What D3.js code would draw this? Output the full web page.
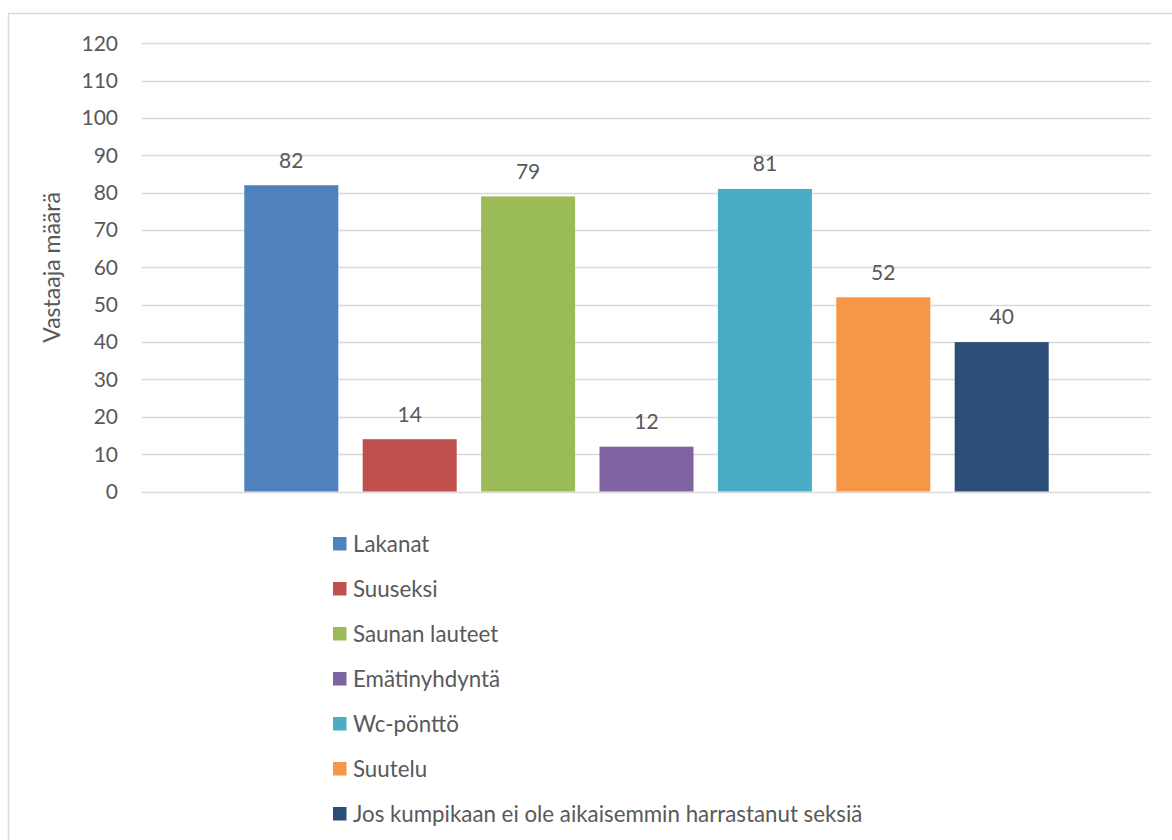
<!DOCTYPE html>
<html>
<head>
<meta charset="utf-8">
<script src="https://cdn.jsdelivr.net/npm/d3@7"></script>
<style>
  body { margin: 0; background: #fff; }
  svg text { font-family: Lato, "Open Sans", sans-serif; fill: #595959; }
</style>
</head>
<body>
<svg id="chart" width="1172" height="840"></svg>
<script>
var series = ["Lakanat", "Suuseksi", "Saunan lauteet", "Emätinyhdyntä", "Wc-pönttö", "Suutelu", "Jos kumpikaan ei ole aikaisemmin harrastanut seksiä"]
var values = [82, 14, 79, 12, 81, 52, 40]
var colours = ["#4f81bd", "#c0504d", "#9bbb59", "#8064a2", "#4bacc6", "#f79646", "#2c4d75"]
var yTicks = [0, 10, 20, 30, 40, 50, 60, 70, 80, 90, 100, 110, 120]
var yTitle = "Vastaaja määrä"

var svg = d3.select("#chart")

// chart frame (runs off the bottom/right edge like the original)
svg.append("rect")
  .attr("x", 8.5).attr("y", 13.5)
  .attr("width", 1200).attr("height", 900)
  .attr("fill", "none").attr("stroke", "#d9d9d9").attr("stroke-width", 1.5)

var plot = {left: 142, right: 1151, top: 43.3, bottom: 491.5}

var y = d3.scaleLinear()
  .domain([0, 120])
  .range([plot.bottom, plot.top])

var x = d3.scaleBand()
  .domain(series)
  .range([plot.left, plot.right])
  .paddingInner(0.206)
  .paddingOuter(0.864)

// gridlines
svg.append("g")
  .selectAll("line")
  .data(yTicks)
  .enter()
  .append("line")
  .attr("x1", plot.left).attr("x2", plot.right)
  .attr("y1", function(d){return Math.round(y(d)) + 0.5})
  .attr("y2", function(d){return Math.round(y(d)) + 0.5})
  .attr("stroke", "#d9d9d9")
  .attr("stroke-width", 1.3)

// y tick labels
svg.append("g")
  .selectAll("text")
  .data(yTicks)
  .enter()
  .append("text")
  .attr("x", 118)
  .attr("y", function(d){return y(d)})
  .attr("dy", "0.35em")
  .attr("text-anchor", "end")
  .attr("font-size", 21)
  .text(function(d){return d})

svg.append("text")
  .attr("transform", "translate(60," + ((plot.top + plot.bottom) / 2) + ") rotate(-90)")
  .attr("text-anchor", "middle")
  .attr("font-size", 23)
  .text(yTitle)

// bars
svg.append("g")
  .selectAll("rect")
  .data(series)
  .enter()
  .append("rect")
  .attr("x", function(d){return x(d)})
  .attr("width", x.bandwidth())
  .attr("y", function(d, i){return y(values[i])})
  .attr("height", function(d, i){return y(0) - y(values[i])})
  .attr("fill", function(d, i){return colours[i]})

// data labels
svg.append("g")
  .selectAll("text")
  .data(series)
  .enter()
  .append("text")
  .attr("x", function(d){return x(d) + x.bandwidth() / 2})
  .attr("y", function(d, i){return y(values[i]) - 25})
  .attr("dy", "0.35em")
  .attr("text-anchor", "middle")
  .attr("font-size", 21)
  .text(function(d, i){return values[i]})

// legend
var legend = svg.append("g")
  .selectAll("g")
  .data(series)
  .enter()
  .append("g")
  .attr("transform", function(d, i){return "translate(333," + (544 + i * 45) + ")"})

legend.append("rect")
  .attr("x", 0).attr("y", -7)
  .attr("width", 13.5).attr("height", 13.5)
  .attr("fill", function(d, i){return colours[i]})

legend.append("text")
  .attr("x", 20)
  .attr("y", 0)
  .attr("dy", "0.35em")
  .attr("font-size", 22.3)
  .text(function(d){return d})
</script>
</body>
</html>
